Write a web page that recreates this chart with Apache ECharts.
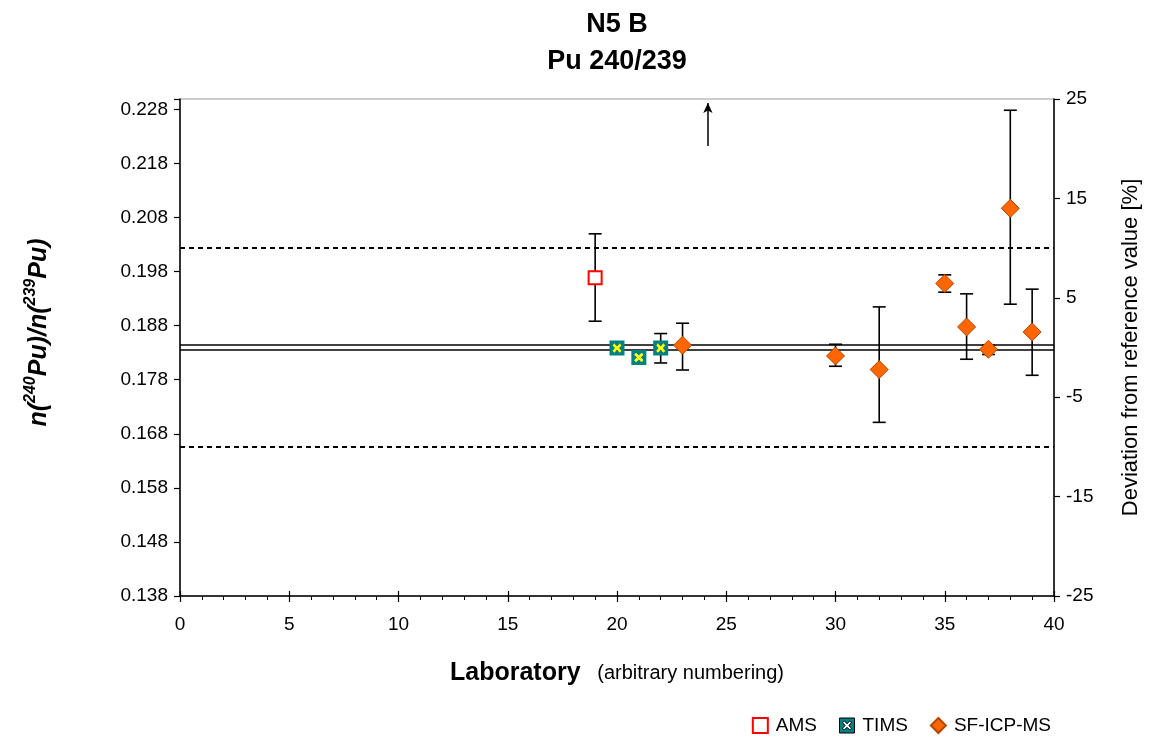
<!DOCTYPE html>
<html>
<head>
<meta charset="utf-8">
<script src="https://cdn.jsdelivr.net/npm/echarts@6/dist/echarts.min.js"></script>
<style>
html,body{margin:0;padding:0;background:#fff;}
#chart{width:1152px;height:738px;}
</style>
</head>
<body>
<div id="chart"></div>
<script>
// ---- data ----
var titleLines = ['N5 B', 'Pu 240/239'];
var refValue = 0.18385;          // certified reference value
var refLow = 0.18339;            // lower bound of reference uncertainty
var refHigh = 0.18431;           // upper bound of reference uncertainty
var tolLow = 0.16547;            // -10 %
var tolHigh = 0.20224;           // +10 %
var yMin = 0.1379, yMax = 0.2298;
var devMin = -25, devMax = 25;

var amsLab = [19];
var amsVal = [0.19673];
var amsLow = [0.18871];
var amsHigh = [0.20487];

var timsLab = [20, 21, 22];
var timsVal = [0.18377, 0.18199, 0.18377];
var timsLow = [0.18330, null, 0.18099];
var timsHigh = [0.18440, null, 0.18643];

var icpLab = [23, 30, 32, 35, 36, 37, 38, 39];
var icpVal = [0.18427, 0.18229, 0.17977, 0.19569, 0.18766, 0.18353, 0.20958, 0.18673];
var icpLow = [0.17969, 0.18038, 0.17001, 0.19408, 0.18168, 0.18255, 0.19186, 0.17871];
var icpHigh = [0.18834, 0.18445, 0.19136, 0.19728, 0.19377, 0.18427, 0.22772, 0.19464];

// off-scale result (arrow pointing up)
var offLab = [24.16];
var offArrow = [0.22111, 0.22907];

// ---- helpers ----
function pts(x, y) { return x.map(function (v, i) { return [v, y[i]]; }); }
function errs(x, lo, hi) {
  var out = [];
  x.forEach(function (v, i) { if (lo[i] != null && hi[i] != null) out.push([v, lo[i], hi[i]]); });
  return out;
}
function errSeries(name, data) {
  return {
    name: name, type: 'custom', z: 3, silent: true,
    encode: { x: 0, y: [1, 2] },
    data: data,
    renderItem: function (params, api) {
      var x = api.value(0);
      var lo = api.coord([x, api.value(1)]);
      var hi = api.coord([x, api.value(2)]);
      var w = 6.5;
      var st = { stroke: '#000', lineWidth: 1.6 };
      return {
        type: 'group',
        children: [
          { type: 'line', shape: { x1: lo[0], y1: lo[1], x2: hi[0], y2: hi[1] }, style: st },
          { type: 'line', shape: { x1: lo[0] - w, y1: lo[1], x2: lo[0] + w, y2: lo[1] }, style: st },
          { type: 'line', shape: { x1: hi[0] - w, y1: hi[1], x2: hi[0] + w, y2: hi[1] }, style: st }
        ]
      };
    }
  };
}
function hLine(name, v, type, width) {
  return {
    name: name, type: 'line', z: 1, silent: true, symbol: 'none',
    data: [[0, v], [40, v]],
    lineStyle: { color: '#000', width: width, type: type }
  };
}

var FONT = '"Liberation Sans", Arial, sans-serif';
var timsIcon = 'path://M0,0L10,0L10,10L0,10Z M3.2,2L2,3.2L3.8,5L2,6.8L3.2,8L5,6.2L6.8,8L8,6.8L6.2,5L8,3.2L6.8,2L5,3.8Z';
var xIcon = 'path://M3.2,2L2,3.2L3.8,5L2,6.8L3.2,8L5,6.2L6.8,8L8,6.8L6.2,5L8,3.2L6.8,2L5,3.8Z';

var chart = echarts.init(document.getElementById('chart'), null, { renderer: 'canvas' });

var option = {
  animation: false,
  backgroundColor: '#fff',
  textStyle: { fontFamily: FONT },
  title: {
    text: titleLines.join('\n'),
    left: 612, top: 1, textAlign: 'center',
    textStyle: { fontFamily: FONT, fontSize: 27, fontWeight: 'bold', color: '#000', lineHeight: 37 }
  },
  legend: {
    data: [
      { name: 'AMS', icon: 'rect' },
      { name: 'TIMS', icon: timsIcon, itemStyle: { borderColor: '#000', borderWidth: 1 } },
      { name: 'SF-ICP-MS', icon: 'diamond' }
    ],
    right: 96, top: 711,
    itemWidth: 15, itemHeight: 15, itemGap: 22,
    selectedMode: false,
    textStyle: { fontFamily: FONT, fontSize: 19, color: '#000', padding: [0, 0, 0, 3] }
  },
  grid: {
    left: 180, right: 98, top: 99, bottom: 142,
    show: true, borderColor: '#999', borderWidth: 1, backgroundColor: 'transparent'
  },
  xAxis: [
    {
      type: 'value', min: 0, max: 40, interval: 5,
      name: '{b|Laboratory}{n|   (arbitrary numbering)}',
      nameLocation: 'middle', nameGap: 65,
      nameTextStyle: {
        rich: {
          b: { fontFamily: FONT, fontSize: 25, fontWeight: 'bold', color: '#000' },
          n: { fontFamily: FONT, fontSize: 20, color: '#000' }
        }
      },
      axisLine: { show: true, onZero: false, lineStyle: { color: '#000', width: 1.5 } },
      axisTick: { show: true, length: 6, lineStyle: { color: '#000', width: 1.2 } },
      minorTick: { show: true, splitNumber: 5, length: 4, lineStyle: { color: '#000', width: 1 } },
      splitLine: { show: false },
      axisLabel: { fontFamily: FONT, fontSize: 19, color: '#000', margin: 19 }
    },
    {
      // inner half of the crossing major ticks
      type: 'value', min: 0, max: 40, interval: 5, position: 'bottom', offset: 0,
      axisLine: { show: false, onZero: false },
      axisTick: { show: true, inside: true, length: 5, lineStyle: { color: '#000', width: 1.2 } },
      axisLabel: { show: false },
      splitLine: { show: false }
    }
  ],
  yAxis: [
    {
      type: 'value', min: yMin, max: yMax, interval: 0.01, position: 'left',
      name: '{n|n(}{s|240}{n|Pu)/n(}{s|239}{n|Pu)}',
      nameLocation: 'middle', nameRotate: 90, nameGap: 128,
      nameTextStyle: {
        padding: [0, 0, 0, 30],
        rich: {
          n: { fontFamily: FONT, fontSize: 25, fontWeight: 'bold', fontStyle: 'italic', color: '#000', lineHeight: 29, verticalAlign: 'bottom' },
          s: { fontFamily: FONT, fontSize: 16, fontWeight: 'bold', fontStyle: 'italic', color: '#000', lineHeight: 17, verticalAlign: 'top' }
        }
      },
      axisLine: { show: true, onZero: false, lineStyle: { color: '#000', width: 1.5 } },
      axisTick: { show: true, length: 6, lineStyle: { color: '#000', width: 1.2 } },
      splitLine: { show: false },
      axisLabel: {
        fontFamily: FONT, fontSize: 19, color: '#000', margin: 12,
        formatter: function (v) { return v > 0.2285 ? '' : v.toFixed(3); }
      }
    },
    {
      type: 'value', min: devMin, max: devMax, interval: 10, position: 'right',
      name: 'Deviation from reference value [%]',
      nameLocation: 'middle', nameRotate: 90, nameGap: 66,
      nameTextStyle: { fontFamily: FONT, fontSize: 22, color: '#000' },
      axisLine: { show: true, onZero: false, lineStyle: { color: '#000', width: 1.5 } },
      axisTick: { show: true, length: 6, lineStyle: { color: '#000', width: 1.2 } },
      splitLine: { show: false },
      axisLabel: { fontFamily: FONT, fontSize: 19, color: '#000', margin: 12 }
    }
  ],
  series: [
    hLine('refLow', refLow, 'solid', 1.5),
    hLine('refHigh', refHigh, 'solid', 1.5),
    hLine('tolLow', tolLow, [5, 4], 2),
    hLine('tolHigh', tolHigh, [5, 4], 2),
    {
      name: 'offscale', type: 'line', z: 3, silent: true, symbol: 'none',
      data: [],
      markLine: {
        silent: true, animation: false,
        symbol: ['none', 'arrow'], symbolSize: [7, 10],
        label: { show: false },
        lineStyle: { color: '#000', width: 1.5, type: 'solid' },
        data: [[{ coord: [offLab[0], offArrow[0]] }, { coord: [offLab[0], offArrow[1]] }]]
      }
    },
    errSeries('amsErr', errs(amsLab, amsLow, amsHigh)),
    errSeries('timsErr', errs(timsLab, timsLow, timsHigh)),
    errSeries('icpErr', errs(icpLab, icpLow, icpHigh)),
    {
      name: 'AMS', type: 'scatter', z: 5, symbol: 'rect', symbolSize: 13,
      data: pts(amsLab, amsVal),
      itemStyle: { color: '#fff', borderColor: '#FF0000', borderWidth: 2, opacity: 1 }
    },
    {
      name: 'TIMS', type: 'scatter', z: 5, symbol: timsIcon, symbolSize: 15,
      data: pts(timsLab, timsVal),
      itemStyle: { color: '#008080', borderWidth: 0, opacity: 1 }
    },
    {
      name: 'TIMSx', type: 'scatter', z: 6, symbol: xIcon, symbolSize: 9, silent: true,
      data: pts(timsLab, timsVal),
      itemStyle: { color: '#FFFF00', opacity: 1 }
    },
    {
      name: 'SF-ICP-MS', type: 'scatter', z: 5, symbol: 'diamond', symbolSize: 18,
      data: pts(icpLab, icpVal),
      itemStyle: { color: '#FF6600', borderColor: '#B34700', borderWidth: 1, opacity: 1 }
    }
  ]
};
chart.setOption(option);
</script>
</body>
</html>
